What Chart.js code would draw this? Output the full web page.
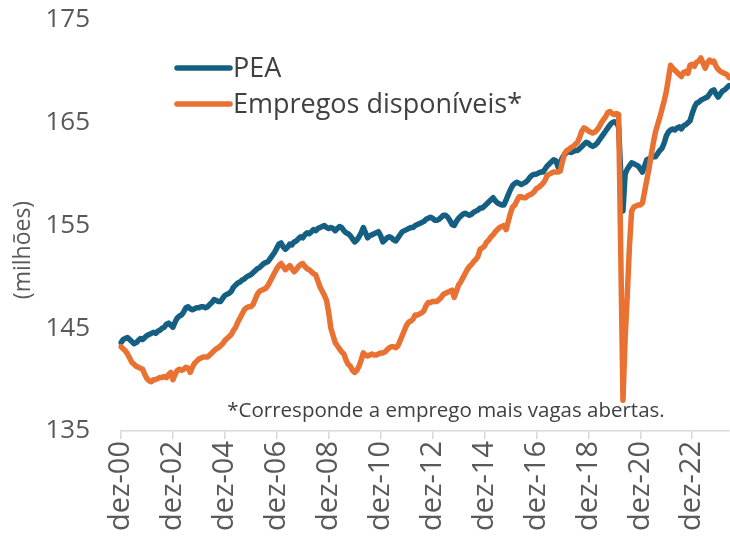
<!DOCTYPE html>
<html>
<head>
<meta charset="utf-8">
<script src="https://cdn.jsdelivr.net/npm/chart.js@4.4.1/dist/chart.umd.min.js"></script>
<style>
  body { margin: 0; background: #fff; }
  #wrap { width: 730px; height: 541px; }
</style>
</head>
<body>
<div id="wrap"><canvas id="chartCanvas" width="730" height="541"></canvas></div>
<script>
// monthly series, starting at dez-00
const months = ["jan", "fev", "mar", "abr", "mai", "jun", "jul", "ago", "set", "out", "nov", "dez"];
const startYear = 2000;
const startMonth = 11; // dez

// PEA (milhões)
const pea = [
    143.6, 143.9, 144.0, 144.1, 143.9, 143.7, 143.5, 143.6, 143.8, 144.0, 143.9, 144.1,
    144.3, 144.4, 144.5, 144.6, 144.5, 144.7, 144.8, 145.0, 145.1, 145.4, 145.5, 145.3,
    145.1, 145.6, 146.0, 146.2, 146.3, 146.6, 147.0, 147.1, 146.9, 146.8, 146.9, 147.0,
    147.0, 147.1, 147.1, 147.0, 147.1, 147.3, 147.5, 147.8, 147.7, 147.6, 147.6, 147.9,
    148.2, 148.3, 148.4, 148.6, 149.0, 149.2, 149.4, 149.5, 149.7, 149.8, 150.0, 150.1,
    150.2, 150.4, 150.6, 150.8, 150.9, 151.1, 151.3, 151.4, 151.5, 151.8, 152.1, 152.4,
    152.8, 153.2, 153.3, 152.9, 152.7, 152.9, 153.2, 153.1, 153.4, 153.5, 153.7, 153.9,
    153.8, 154.1, 154.3, 154.2, 154.4, 154.6, 154.5, 154.7, 154.8, 154.9, 155.0, 154.8,
    154.7, 154.8, 154.7, 154.5, 154.7, 154.9, 154.8, 154.5, 154.3, 154.2, 154.0, 153.7,
    153.4, 153.6, 153.9, 154.3, 154.8, 154.3, 153.8, 154.0, 154.1, 154.2, 154.3, 154.4,
    154.0, 153.4, 153.6, 153.8, 153.9, 153.8, 153.6, 153.5, 153.8, 154.1, 154.4, 154.5,
    154.6, 154.7, 154.8, 154.8, 155.0, 155.1, 155.2, 155.3, 155.4, 155.6, 155.7, 155.8,
    155.7, 155.5, 155.5, 155.6, 155.8, 156.0, 156.0, 155.8, 155.5, 155.1, 155.0, 155.4,
    155.7, 155.9, 156.1, 156.2, 156.1, 156.0, 156.1, 156.3, 156.4, 156.5, 156.7, 156.7,
    156.9, 157.1, 157.3, 157.5, 157.7, 157.4, 157.2, 157.1, 157.0, 157.0, 157.5, 158.0,
    158.5, 158.9, 159.1, 159.2, 159.1, 159.0, 159.1, 159.2, 159.4, 159.7, 159.9, 160.0,
    160.0, 160.1, 160.2, 160.2, 160.5, 160.8, 161.0, 161.2, 161.4, 161.3, 160.7, 161.1,
    161.6, 161.9, 162.1, 162.2, 162.1, 162.2, 162.3, 162.3, 162.5, 162.7, 162.9, 163.1,
    163.0, 162.8, 162.7, 162.8, 163.0, 163.3, 163.6, 163.9, 164.2, 164.5, 164.8, 165.0,
    165.1, 165.0, 164.6, 160.0, 156.4, 160.0, 160.5, 160.8, 161.1, 161.0, 160.9, 160.8,
    160.5, 160.2, 160.8, 161.4, 161.5, 161.6, 161.7, 161.7, 162.0, 162.3, 162.5, 163.0,
    163.7, 164.1, 164.3, 164.4, 164.3, 164.5, 164.6, 164.4, 164.7, 164.8, 165.0, 165.2,
    165.9, 166.5, 166.9, 167.0, 167.2, 167.3, 167.4, 167.5, 167.8, 168.1, 168.2, 167.8,
    167.5, 167.8, 168.1, 168.2, 168.4, 168.6
];

// Empregos disponíveis (emprego + vagas abertas)
const empregos = [
    143.2, 143.0, 142.8, 142.5, 142.1, 141.7, 141.5, 141.3, 141.2, 141.1, 141.0, 140.5,
    140.1, 139.9, 139.8, 140.0, 140.0, 140.1, 140.2, 140.2, 140.3, 140.2, 140.5, 140.7,
    140.0, 140.5, 140.9, 141.0, 140.9, 141.0, 141.2, 141.1, 140.7, 141.2, 141.6, 141.8,
    142.0, 142.1, 142.2, 142.2, 142.2, 142.4, 142.6, 142.8, 143.0, 143.1, 143.3, 143.5,
    143.8, 144.0, 144.2, 144.4, 144.8, 145.1, 145.6, 146.0, 146.4, 146.8, 147.0, 147.1,
    147.1, 147.3, 147.8, 148.3, 148.6, 148.7, 148.8, 148.9, 149.2, 149.6, 150.0, 150.4,
    150.8, 151.1, 151.3, 151.0, 150.7, 150.9, 151.1, 150.8, 150.5, 150.7, 151.0, 151.2,
    151.3, 151.0, 150.8, 150.7, 150.5, 150.3, 150.2, 149.6, 149.0, 148.6, 148.2, 147.7,
    146.5, 145.0, 144.3, 143.6, 143.3, 143.0, 142.7, 142.5, 141.9, 141.5, 141.3, 140.9,
    140.7, 140.9, 141.3, 141.9, 142.6, 142.4, 142.3, 142.4, 142.5, 142.4, 142.4, 142.5,
    142.6, 142.6, 142.7, 142.9, 143.1, 143.2, 143.2, 143.1, 143.3, 143.8, 144.3, 144.8,
    145.3, 145.6, 145.7, 145.9, 146.3, 146.3, 146.4, 146.5, 146.7, 147.2, 147.5, 147.5,
    147.6, 147.6, 147.6, 147.8, 148.0, 148.3, 148.4, 148.5, 148.6, 148.7, 148.0, 148.6,
    149.2, 149.5, 149.9, 150.3, 150.7, 151.0, 151.2, 151.5, 151.7, 152.0, 152.7, 152.8,
    153.0, 153.4, 153.6, 153.9, 154.1, 154.4, 154.6, 154.8, 154.9, 155.0, 154.6, 155.4,
    156.2, 156.8, 157.0, 157.4, 157.8, 157.8, 157.7, 157.7, 157.9, 158.0, 158.1, 158.3,
    158.6, 158.7, 158.9, 159.1, 159.4, 159.9, 160.0, 160.1, 160.2, 160.2, 160.2, 160.3,
    161.2, 162.0, 162.3, 162.4, 162.6, 162.7, 162.9, 163.1, 163.6, 164.2, 164.5, 164.4,
    164.2, 164.1, 164.0, 164.1, 164.3, 164.6, 165.0, 165.3, 165.6, 166.0, 166.1, 165.9,
    165.8, 165.9, 165.8, 152.0, 138.0, 144.0, 148.3, 153.0, 156.4, 156.8, 156.9, 157.0,
    157.0, 157.2, 158.3, 159.4, 160.5, 161.8, 163.0, 164.1, 164.8, 165.5, 166.3, 167.1,
    168.0, 169.3, 170.6, 170.3, 170.1, 169.9, 169.7, 169.5, 169.9, 170.0, 169.8, 170.6,
    170.7, 170.5, 170.9, 171.0, 171.3, 170.8, 170.3, 170.8, 171.1, 170.9, 171.0, 170.5,
    170.2, 170.0, 169.9, 169.8, 169.7, 169.4
];

const seriesNames = ["PEA", "Empregos disponíveis*"];
const seriesColors = ["#156082", "#E97132"];
const footnote = "*Corresponde a emprego mais vagas abertas.";
const yTitle = "(milhões)";
const labelEvery = 24;

const labels = pea.map((v, i) => {
    const m = (startMonth + i) % 12;
    const y = startYear + Math.floor((startMonth + i) / 12);
    return months[m] + "-" + String(y % 100).padStart(2, "0");
});

const fontFamily = "'Open Sans', 'Noto Sans', sans-serif";
const textColor = "#595959";
const lineW = 5.5;

// draws the legend, the footnote and the y title
const extrasPlugin = {
    id: "extras",
    afterDraw(chart) {
        const ctx = chart.ctx;
        ctx.save();
        // legend
        ctx.font = "27px " + fontFamily;
        ctx.textBaseline = "middle";
        ctx.textAlign = "left";
        const legendY = [68, 104];
        for (let i = 0; i < seriesNames.length; i++) {
            ctx.strokeStyle = seriesColors[i];
            ctx.lineWidth = lineW;
            ctx.lineCap = "round";
            ctx.beginPath();
            ctx.moveTo(177, legendY[i]);
            ctx.lineTo(230, legendY[i]);
            ctx.stroke();
            ctx.fillStyle = "#404040";
            ctx.fillText(seriesNames[i], 233, legendY[i] + 1);
        }
        // footnote
        ctx.font = "20.5px " + fontFamily;
        ctx.fillStyle = "#404040";
        ctx.textAlign = "center";
        ctx.fillText(footnote, 446, 411);
        // y title
        ctx.translate(23, 250);
        ctx.rotate(-Math.PI / 2);
        ctx.font = "23px " + fontFamily;
        ctx.fillStyle = textColor;
        ctx.fillText(yTitle, 0, 0);
        ctx.restore();
    }
};

const myChart = new Chart(document.querySelector("#chartCanvas"), {
    type: "line",
    data: {
        labels: labels,
        datasets: [
            {
                label: seriesNames[1],
                data: empregos,
                borderColor: seriesColors[1],
                borderWidth: lineW,
                pointRadius: 0,
                tension: 0,
                borderJoinStyle: "round",
                borderCapStyle: "round"
            },
            {
                label: seriesNames[0],
                data: pea,
                borderColor: seriesColors[0],
                borderWidth: lineW,
                pointRadius: 0,
                tension: 0,
                borderJoinStyle: "round",
                borderCapStyle: "round"
            }
        ]
    },
    options: {
        responsive: false,
        animation: false,
        layout: { padding: { top: 20, right: 1, left: 0, bottom: 0 } },
        plugins: {
            legend: { display: false },
            tooltip: { enabled: false }
        },
        scales: {
            x: {
                offset: false,
                afterFit: (scale) => {
                    scale.height = 110;
                    scale.paddingLeft = 0;
                    scale.paddingRight = 0;
                },
                grid: {
                    display: true,
                    drawOnChartArea: false,
                    drawTicks: true,
                    tickLength: 8,
                    color: "#d9d9d9",
                    lineWidth: 1.5
                },
                border: { display: true, color: "#d9d9d9", width: 1.5 },
                ticks: {
                    autoSkip: false,
                    maxRotation: 90,
                    minRotation: 90,
                    padding: 2,
                    color: textColor,
                    font: { size: 29, family: fontFamily },
                    callback: function (value, index) {
                        return index % labelEvery === 0 ? labels[index] : null;
                    }
                }
            },
            y: {
                min: 135,
                max: 175,
                afterFit: (scale) => {
                    scale.width = 121;
                    scale.paddingTop = 0;
                    scale.paddingBottom = 0;
                },
                grid: { display: false, drawTicks: false },
                border: { display: false },
                ticks: {
                    stepSize: 10,
                    padding: 31,
                    color: textColor,
                    font: { size: 26, family: fontFamily }
                }
            }
        }
    },
    plugins: [extrasPlugin]
});
</script>
</body>
</html>
